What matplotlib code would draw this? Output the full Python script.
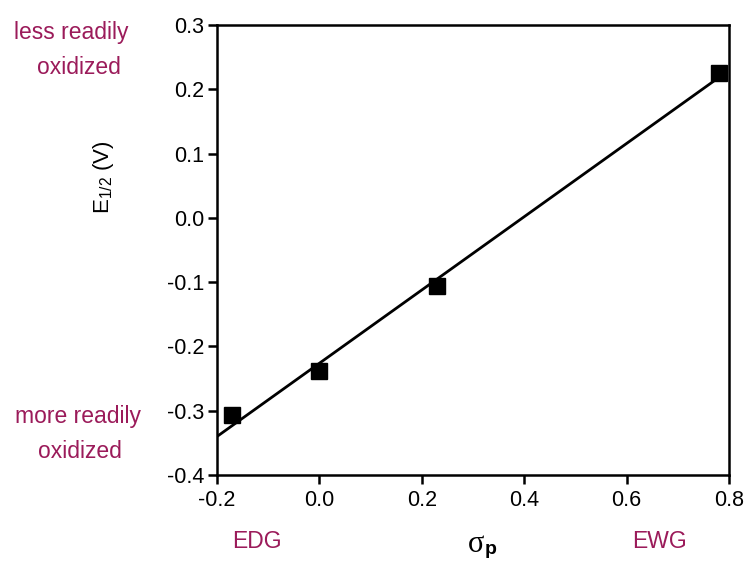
import numpy as np
import matplotlib
matplotlib.use("Agg")
import matplotlib.pyplot as plt

plt.rcParams["font.family"] = ["Liberation Sans", "DejaVu Sans"]
plt.rcParams["axes.unicode_minus"] = False
plt.rcParams["mathtext.fontset"] = "custom"
plt.rcParams["mathtext.rm"] = "Liberation Sans"
plt.rcParams["mathtext.it"] = "Liberation Sans:italic"
plt.rcParams["mathtext.bf"] = "Liberation Sans:bold"

# Hammett sigma_p vs half-wave potential
sigma_p = [-0.17, 0.0, 0.23, 0.78]
e_half = [-0.307, -0.238, -0.106, 0.225]
x_ticks = [-0.2, 0.0, 0.2, 0.4, 0.6, 0.8]
y_ticks = [-0.4, -0.3, -0.2, -0.1, 0.0, 0.1, 0.2, 0.3]

accent = "#9b1b5a"
W, H = 747, 561

fig = plt.figure(figsize=(7.47, 5.61), dpi=100)
ax = fig.add_axes([217 / W, 1 - 475 / H, 512 / W, 450 / H])

slope, intercept = np.polyfit(sigma_p, e_half, 1)
fit_x = np.array([-0.2, max(sigma_p)])
ax.plot(fit_x, slope * fit_x + intercept, color="black", lw=2, zorder=2)
ax.plot(sigma_p, e_half, "s", color="black", ms=12, zorder=3)

ax.set_xlim(-0.2, 0.8)
ax.set_ylim(-0.4, 0.3)
ax.set_xticks(x_ticks)
ax.set_yticks(y_ticks)
ax.set_xticklabels([f"{t:.1f}" for t in x_ticks])
ax.set_yticklabels([f"{t:.1f}" for t in y_ticks])
ax.tick_params(direction="out", length=6.5, width=1.8, labelsize=15.5)
ax.tick_params(axis="y", pad=2.5)
ax.tick_params(axis="x", pad=4)
for s in ax.spines.values():
    s.set_linewidth(1.8)

fig.text(103 / W, 1 - 177 / H, r"E$_{\mathit{1/2}}$ (V)", fontsize=16,
         rotation=90, ha="center", va="center")

# sigma_p axis title: serif sigma with bold sans subscript
fig.text(476 / W, 1 - 544 / H, "σ", family="Liberation Serif", fontsize=22,
         ha="center", va="center")
fig.text(491 / W, 1 - 549 / H, "p", fontsize=14, fontweight="bold",
         ha="center", va="center")

notes = [
    ("less readily", 71, 33),
    ("oxidized", 79, 68),
    ("more readily", 78, 417),
    ("oxidized", 80, 452),
    ("EDG", 257, 541),
    ("EWG", 660, 541),
]
for txt, px, py in notes:
    fig.text(px / W, 1 - py / H, txt, color=accent, fontsize=16.5,
             ha="center", va="center")

fig.savefig("out.png", dpi=100)
plt.close(fig)
